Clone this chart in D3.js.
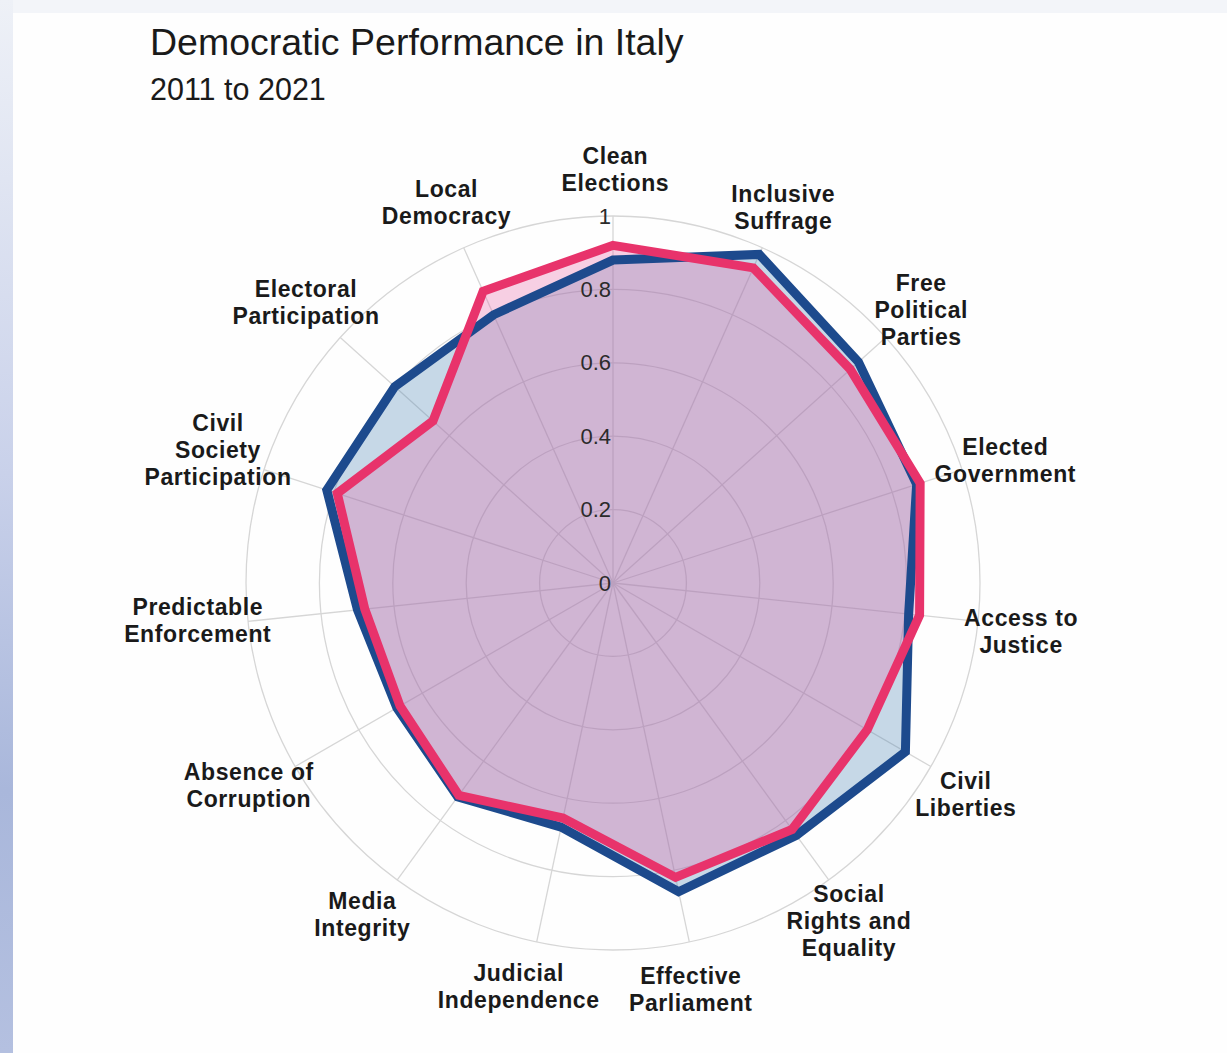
<!DOCTYPE html>
<html>
<head>
<meta charset="utf-8">
<script src="https://cdn.jsdelivr.net/npm/d3@7"></script>
<style>
  body { margin: 0; background: #fefefe; }
  svg { display: block; font-family: "Liberation Sans", Arial, sans-serif; }
</style>
</head>
<body>
<svg id="radar" width="1227" height="1053"></svg>
<script>
// categories, clockwise from the top ("|" marks a line break in the label)
var categories = [
  "Clean|Elections", "Inclusive|Suffrage", "Free|Political|Parties",
  "Elected|Government", "Access to|Justice", "Civil|Liberties",
  "Social|Rights and|Equality", "Effective|Parliament", "Judicial|Independence",
  "Media|Integrity", "Absence of|Corruption", "Predictable|Enforcement",
  "Civil|Society|Participation", "Electoral|Participation", "Local|Democracy"
];
var values2011 = [0.88, 0.98, 0.90, 0.87, 0.81, 0.92, 0.85, 0.86, 0.68, 0.72, 0.68, 0.70, 0.82, 0.80, 0.80];
var values2021 = [0.92, 0.94, 0.87, 0.88, 0.84, 0.80, 0.83, 0.82, 0.655, 0.715, 0.67, 0.68, 0.79, 0.66, 0.87];
var radialTicks = [0, 0.2, 0.4, 0.6, 0.8, 1];

var svg = d3.select("#radar");
var W = 1227, H = 1053;

// page background bits
var defs = svg.append("defs");
var grad = defs.append("linearGradient").attr("id", "side")
    .attr("x1", 0).attr("y1", 0).attr("x2", 0).attr("y2", 1);
grad.append("stop").attr("offset", "0%").attr("stop-color", "#eef1f7");
grad.append("stop").attr("offset", "45%").attr("stop-color", "#c9d1ea");
grad.append("stop").attr("offset", "75%").attr("stop-color", "#a9b7db");
grad.append("stop").attr("offset", "100%").attr("stop-color", "#b4c0e0");
svg.append("rect").attr("width", W).attr("height", H).attr("fill", "#fefefe");
svg.append("rect").attr("width", W).attr("height", 13).attr("fill", "#f3f5f9");
svg.append("rect").attr("width", 13).attr("height", H).attr("fill", "url(#side)");

// titles
svg.append("text").attr("x", 150).attr("y", 55)
    .attr("font-size", 37.5).attr("fill", "#1a1a1a")
    .text("Democratic Performance in Italy");
svg.append("text").attr("x", 150).attr("y", 100)
    .attr("font-size", 30.5).attr("fill", "#1a1a1a")
    .text("2011 to 2021");

var cx = 613, cy = 583, R = 367;
var g = svg.append("g").attr("transform", "translate(" + cx + "," + cy + ")");

var r = d3.scaleLinear().domain([0, 1]).range([0, R]);
var angle = d3.scaleLinear().domain([0, categories.length]).range([0, 2 * Math.PI]);

// grid circles
g.selectAll(".ring")
  .data(radialTicks.filter(function(d) { return d > 0; }))
  .enter().append("circle")
    .attr("r", function(d) { return r(d); })
    .attr("fill", "none")
    .attr("stroke", "#d6d6d6")
    .attr("stroke-width", 1.3);

// spokes
g.selectAll(".spoke")
  .data(categories)
  .enter().append("line")
    .attr("x1", 0).attr("y1", 0)
    .attr("x2", function(d, i) { return r(1) * Math.sin(angle(i)); })
    .attr("y2", function(d, i) { return -r(1) * Math.cos(angle(i)); })
    .attr("stroke", "#d6d6d6")
    .attr("stroke-width", 1.3);

var radarLine = d3.lineRadial()
    .angle(function(d, i) { return angle(i); })
    .radius(function(d) { return r(d); })
    .curve(d3.curveLinearClosed);

var series = [
  {values: values2011, fill: "rgba(70,130,180,0.30)", stroke: "#1d4a8d"},
  {values: values2021, fill: "rgba(232,100,165,0.30)", stroke: "#e8336b"}
];

// fills first, outlines on top
series.forEach(function(s) {
  g.append("path")
    .attr("d", radarLine(s.values))
    .attr("fill", s.fill)
    .attr("stroke", "none");
});
series.forEach(function(s) {
  g.append("path")
    .attr("d", radarLine(s.values))
    .attr("fill", "none")
    .attr("stroke", s.stroke)
    .attr("stroke-width", 9)
    .attr("stroke-linejoin", "miter");
});

// radial tick labels
g.selectAll(".tick")
  .data(radialTicks)
  .enter().append("text")
    .attr("x", -2)
    .attr("y", function(d) { return -r(d); })
    .attr("text-anchor", "end")
    .attr("dominant-baseline", "central")
    .attr("font-size", 22)
    .attr("fill", "#2b2b2b")
    .text(function(d) { return d3.format("~g")(d); });

// category labels
var labelR = r(1.128);
var lbl = g.selectAll(".lbl")
  .data(categories)
  .enter().append("text")
    .attr("text-anchor", "middle")
    .attr("font-size", 23)
    .attr("font-weight", "bold")
    .attr("letter-spacing", 0.6)
    .attr("fill", "#1a1a1a");

lbl.each(function(d, i) {
  var lines = d.split("|");
  var a = angle(i) + 0.013;
  var x = labelR * Math.sin(a) - 3;
  var y = -labelR * Math.cos(a);
  var t = d3.select(this);
  lines.forEach(function(line, j) {
    t.append("tspan")
      .attr("x", x)
      .attr("y", y + (j - (lines.length - 1) / 2) * 27)
      .attr("dominant-baseline", "central")
      .text(line);
  });
});
</script>
</body>
</html>
